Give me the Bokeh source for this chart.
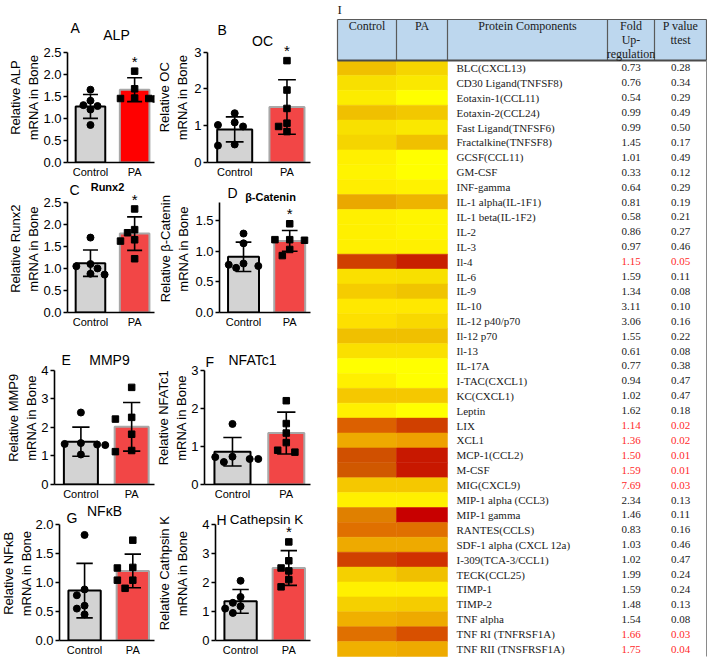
import numpy as np
from bokeh.plotting import figure
from bokeh.models import Range1d, FixedTicker, NumeralTickFormatter, ColumnDataSource
from bokeh.layouts import row, column
from bokeh.core.properties import value
from bokeh.embed import file_html
from bokeh.resources import INLINE

# ---------------- data: bar panels ----------------
groups = ["Control", "PA"]

alp_mean = [1.27, 1.65]
alp_sd = [0.27, 0.27]
alp_ctrl = [1.65, 1.40, 1.30, 1.28, 1.20, 0.85]
alp_pa = [2.07, 1.67, 1.46, 1.45, 1.45, 1.44]

oc_mean = [0.90, 1.51]
oc_sd = [0.34, 0.74]
oc_ctrl = [1.34, 1.09, 1.02, 0.98, 0.49, 0.46]
oc_pa = [2.77, 1.97, 1.47, 1.07, 0.98, 0.84]

runx2_mean = [1.12, 1.79]
runx2_sd = [0.30, 0.38]
runx2_ctrl = [1.70, 1.10, 1.05, 1.00, 0.88, 0.86]
runx2_pa = [2.35, 1.88, 1.81, 1.65, 1.62, 1.22]

bcat_mean = [0.91, 1.17]
bcat_sd = [0.24, 0.17]
bcat_ctrl = [1.29, 1.13, 0.80, 0.78, 0.76, 0.73]
bcat_pa = [1.45, 1.19, 1.19, 1.18, 1.03, 0.93]

mmp9_mean = [1.50, 2.02]
mmp9_sd = [0.51, 0.85]
mmp9_ctrl = [2.52, 1.45, 1.42, 1.40, 1.38, 1.05]
mmp9_pa = [3.40, 2.35, 2.29, 1.76, 1.19, 1.15]

nfatc1_mean = [0.86, 1.35]
nfatc1_sd = [0.375, 0.55]
nfatc1_ctrl = [1.59, 0.73, 0.72, 0.67, 0.67, 0.59]
nfatc1_pa = [2.20, 1.60, 1.35, 1.10, 0.90, 0.85]

nfkb_mean = [0.86, 1.20]
nfkb_sd = [0.47, 0.29]
nfkb_ctrl = [1.82, 0.88, 0.78, 0.60, 0.55, 0.45]
nfkb_pa = [1.73, 1.26, 1.25, 1.04, 1.04, 0.90]

ctsk_mean = [1.35, 2.50]
ctsk_sd = [0.41, 0.60]
ctsk_ctrl = [2.06, 1.50, 1.30, 1.18, 1.10, 0.95]
ctsk_pa = [3.40, 2.75, 2.50, 2.40, 2.10, 1.85]

panel_names = ["ALP", "OC", "Runx2", "β-Catenin", "MMP9", "NFATc1", "NFκB", "Cathepsin K"]
panel_letters = ["A", "B", "C", "D", "E", "F", "G", "H"]
panel_ylabels = ["Relative ALP\nmRNA in Bone", "Relative OC\nmRNA in Bone",
                 "Relative Runx2\nmRNA in Bone", "Relative β-Catenin\nmRNA in Bone",
                 "Relative MMP9\nmRNA in Bone", "Relative NFATc1\nmRNA in Bone",
                 "Relative NFκB\nmRNA in Bone", "Relative Cathpsin K\nmRNA in Bone"]
panel_significant = [True, True, True, True, False, False, False, True]
panel_ymax = [2.5, 3, 2.5, 1.8, 4, 3, 2.0, 4]
panel_ticks = [[0, 0.5, 1.0, 1.5, 2.0, 2.5], [0, 1, 2, 3], [0, 0.5, 1.0, 1.5, 2.0, 2.5],
               [0, 0.5, 1.0, 1.5], [0, 1, 2, 3, 4], [0, 1, 2, 3], [0, 0.5, 1.0, 1.5, 2.0],
               [0, 1, 2, 3, 4]]

# ---------------- data: protein array table ----------------
proteins = ["BLC(CXCL13)", "CD30 Ligand(TNFSF8)", "Eotaxin-1(CCL11)", "Eotaxin-2(CCL24)",
            "Fast Ligand(TNFSF6)", "Fractalkine(TNFSF8)", "GCSF(CCL11)", "GM-CSF", "INF-gamma",
            "IL-1 alpha(IL-1F1)", "IL-1 beta(IL-1F2)", "IL-2", "IL-3", "Il-4", "IL-6", "IL-9",
            "IL-10", "IL-12  p40/p70", "Il-12  p70", "Il-13", "IL-17A", "I-TAC(CXCL1)",
            "KC(CXCL1)", "Leptin", "LIX", "XCL1", "MCP-1(CCL2)", "M-CSF", "MIG(CXCL9)",
            "MIP-1 alpha (CCL3)", "MIP-1 gamma", "RANTES(CCLS)", "SDF-1 alpha (CXCL 12a)",
            "I-309(TCA-3/CCL1)", "TECK(CCL25)", "TIMP-1", "TIMP-2", "TNF alpha",
            "TNF RI (TNFRSF1A)", "TNF RII (TNSFRSF1A)"]
fold_up = [0.73, 0.76, 0.54, 0.99, 0.99, 1.45, 1.01, 0.33, 0.64, 0.81, 0.58, 0.86, 0.97,
           1.15, 1.59, 1.34, 3.11, 3.06, 1.55, 0.61, 0.77, 0.94, 1.02, 1.62, 1.14, 1.36,
           1.50, 1.59, 7.69, 2.34, 1.46, 0.83, 1.03, 1.02, 1.99, 1.59, 1.48, 1.54, 1.66, 1.75]
p_values = [0.28, 0.34, 0.29, 0.49, 0.50, 0.17, 0.49, 0.12, 0.29, 0.19, 0.21, 0.27, 0.46,
            0.05, 0.11, 0.08, 0.10, 0.16, 0.22, 0.08, 0.38, 0.47, 0.47, 0.18, 0.02, 0.02,
            0.01, 0.01, 0.03, 0.13, 0.11, 0.16, 0.46, 0.47, 0.24, 0.24, 0.13, 0.08, 0.03, 0.04]
control_colors = ["#f0c000", "#f8e000", "#fcec00", "#f0c000", "#f8e000", "#f5d500", "#fff000",
                  "#fff400", "#ffee00", "#eaa800", "#fff000", "#fff000", "#fff000", "#d04000",
                  "#fae000", "#f5cc00", "#ffe800", "#fde000", "#f0c000", "#fae000", "#ffff00",
                  "#fff000", "#f5c800", "#fff000", "#dc6000", "#eeaa00", "#d05000", "#d05800",
                  "#f5c800", "#fff000", "#e08000", "#e07000", "#eeaa00", "#d04000", "#f5d000",
                  "#fff000", "#f5d000", "#f0b000", "#e07000", "#f0b000"]
pa_colors = ["#f5d500", "#fae800", "#ffff00", "#f2c800", "#fae800", "#f0c000", "#ffff00",
             "#ffff00", "#fff200", "#eeb400", "#fff500", "#fff500", "#fff000", "#c82000",
             "#f8e000", "#f0c400", "#ffe800", "#f8d800", "#f0c000", "#fae000", "#ffff00",
             "#ffff00", "#f5c800", "#ffff00", "#d04000", "#eea000", "#c81800", "#c81800",
             "#f5c800", "#fff000", "#c80000", "#e07000", "#eeaa00", "#d03000", "#f0c000",
             "#fff000", "#f5cc00", "#eeaa00", "#d85000", "#eeaa00"]

# ---------------- styles / layout ----------------
SANS = "Liberation Sans"
SERIF = "Liberation Serif"
COL_LEFT = [0, 156]
COL_W = [156, 179]
COL_RIGHT_BORDER = [2, 25]
TABLE_W = 372
ROW_TOP = [0, 180, 330, 502]
ROW_H = [180, 150, 172, 156]
ROW_GAP = [52, 22, 40, 22]        # px between figure top and axis top
ROW_AXIS = [111, 111, 115, 116]   # px height of the value axis
axis_x = [63, 207, 63, 208, 52, 198, 55, 215]     # absolute x of each y axis
label_w = [40, 33, 40, 36, 38, 32, 32, 41]        # width of the y-label strip
label_c = [24, 17, 24, 18, 22, 16, 16.5, 17]      # centre of the y-label block in the strip
letter_pos = [(66, 28), (217, 30), (65, 190), (216, 193), (59, 360), (193, 362), (62, 517), (212, 519)]
title_pos = [(112, 35), (262, 41), (103, 187), (259, 197), (107, 360), (246, 360), (100, 510), (266, 519)]
title_size = ["14px", "14px", "11px", "11px", "14px", "14px", "14px", "13.5px"]
title_bold = [False, False, True, True, False, False, False, False]
pa_fill = ["#ff0000"] + ["#f24646"] * 7

panel_data = [(alp_mean, alp_sd, alp_ctrl, alp_pa), (oc_mean, oc_sd, oc_ctrl, oc_pa),
              (runx2_mean, runx2_sd, runx2_ctrl, runx2_pa), (bcat_mean, bcat_sd, bcat_ctrl, bcat_pa),
              (mmp9_mean, mmp9_sd, mmp9_ctrl, mmp9_pa), (nfatc1_mean, nfatc1_sd, nfatc1_ctrl, nfatc1_pa),
              (nfkb_mean, nfkb_sd, nfkb_ctrl, nfkb_pa), (ctsk_mean, ctsk_sd, ctsk_ctrl, ctsk_pa)]


def swarm(vals, ymax, axis_h, unit_px, center):
    order = np.argsort(vals)[::-1]
    placed = []
    xs = [0.0] * len(vals)
    cands = [0, -1, 1, -2, 2, -3, 3]
    step = 8.0
    for i in order:
        py = vals[i] / ymax * axis_h
        dx = 0
        for c in cands:
            dx = c * step
            if all(((dx - qx) ** 2 + (py - qy) ** 2) ** 0.5 >= 8.5 for qx, qy in placed):
                break
        placed.append((dx, py))
        xs[i] = center + dx / unit_px
    return xs


def bare(fig):
    fig.title.visible = False
    fig.outline_line_color = None
    fig.grid.visible = False
    fig.background_fill_color = None
    fig.border_fill_color = None


def bar_panel(k):
    means, sds, ctrl, pa = panel_data[k]
    r, c = k // 2, k % 2
    fig_left = COL_LEFT[c]
    h = ROW_H[r]
    gap, axis_h = ROW_GAP[r], ROW_AXIS[r]
    axis_top = ROW_TOP[r] + gap
    bottom_border = h - gap - axis_h
    ymax = panel_ymax[k]
    px_to_y = ymax / axis_h
    x0, x1 = -0.52, 1.45
    lw = label_w[k]
    bw = COL_W[c] - lw
    p = figure(width=bw, height=h, x_range=Range1d(x0, x1),
               y_range=Range1d(0, ymax + gap * px_to_y),
               output_backend="svg", toolbar_location=None,
               min_border_left=max(axis_x[k] - fig_left - lw, 0),
               min_border_right=COL_RIGHT_BORDER[c],
               min_border_top=0, min_border_bottom=bottom_border)
    bare(p)

    # strip holding the y-axis label, on the same vertical scale as the panel
    s = figure(width=lw, height=h, x_range=Range1d(0, lw),
               y_range=Range1d(-bottom_border * px_to_y, ymax + gap * px_to_y),
               output_backend="svg", toolbar_location=None, x_axis_type=None, y_axis_type=None,
               min_border=0)
    bare(s)
    s.text(x=[label_c[k]], y=[ymax / 2], text=[panel_ylabels[k]], angle=np.pi / 2,
           text_font=value(SANS), text_font_size=value("13px"), text_align="center",
           text_baseline="middle", text_color="black", text_line_height=1.2)

    unit_px = 50.0
    upper = [m + sd for m, sd in zip(means, sds)]
    lower = [m - sd for m, sd in zip(means, sds)]
    xs = [0, 1]
    p.vbar(x=xs, top=means, width=0.67, bottom=0,
           fill_color=["#d3d3d3", pa_fill[k]], line_color=["#000000", "#a8a8a8"], line_width=2)
    cap = 0.17
    p.segment(x0=xs, y0=lower, x1=xs, y1=upper, line_color="black", line_width=1.6)
    p.segment(x0=[x - cap for x in xs], y0=upper, x1=[x + cap for x in xs], y1=upper,
              line_color="black", line_width=1.6)
    p.segment(x0=[x - cap for x in xs], y0=lower, x1=[x + cap for x in xs], y1=lower,
              line_color="black", line_width=1.6)
    cx = swarm(ctrl, ymax, axis_h, unit_px, 0)
    px = swarm(pa, ymax, axis_h, unit_px, 1)
    p.scatter(x=cx, y=ctrl, marker="circle", size=7, fill_color="black", line_color="black")
    p.scatter(x=px, y=pa, marker="square", size=6.5, fill_color="black", line_color="black")

    for ax in (p.xaxis[0], p.yaxis[0]):
        ax.axis_line_width = 1.6
        ax.axis_line_color = "black"
        ax.minor_tick_line_color = None
        ax.major_label_text_font = SANS
        ax.major_label_text_color = "black"
    p.yaxis.bounds = (0, ymax)
    p.yaxis.ticker = FixedTicker(ticks=panel_ticks[k])
    p.yaxis.formatter = NumeralTickFormatter(format="0" if ymax in (3, 4) else "0.0")
    p.yaxis.major_tick_out = 4
    p.yaxis.major_tick_in = 0
    p.yaxis.major_tick_line_width = 1.6
    p.yaxis.major_label_text_font_size = "13px"
    p.yaxis.major_label_standoff = 2
    p.xaxis.ticker = FixedTicker(ticks=xs)
    p.xaxis.major_label_overrides = {0: groups[0], 1: groups[1]}
    p.xaxis.major_tick_out = 0
    p.xaxis.major_tick_in = 0
    p.xaxis.major_label_text_font_size = "11px"
    p.xaxis.major_label_standoff = 3

    # panel letter
    lx, ly = letter_pos[k]
    p.text(x=[x0], y=[ymax + (axis_top - ly) * px_to_y], x_offset=max(lx - axis_x[k], 1),
           text=[panel_letters[k]], text_font=value(SANS), text_font_size=value("14px"),
           text_align="left", text_baseline="middle", text_color="black")
    # gene name
    tx, ty = title_pos[k]
    p.text(x=[x0], y=[ymax + (axis_top - ty) * px_to_y], x_offset=tx - axis_x[k],
           text=[panel_names[k]], text_font=value(SANS),
           text_font_size=value(title_size[k]),
           text_font_style="bold" if title_bold[k] else "normal",
           text_align="center", text_baseline="middle", text_color="black")
    if panel_significant[k]:
        sy = max(upper[1], max(pa)) + 0.09 * ymax
        p.text(x=[1], y=[sy], text=["*"], text_font=value(SANS), text_font_size=value("15px"),
               text_align="center", text_baseline="middle", text_color="black")
    return row(s, p)


panels = [bar_panel(k) for k in range(8)]
left = column(row(panels[0], panels[1]), row(panels[2], panels[3]),
              row(panels[4], panels[5]), row(panels[6], panels[7]))

# ---------------- table figure ----------------
TABLE_H = sum(ROW_H)
EDGES = [2, 61, 112, 272, 319, 371]
ROW_PX = 14.9
HDR = 41 / ROW_PX
TOPM = 19 / ROW_PX
n = len(proteins)
y_top = -0.5 - HDR - TOPM
y_bot = y_top + TABLE_H / ROW_PX
t = figure(width=TABLE_W, height=TABLE_H, x_range=Range1d(0, TABLE_W), y_range=Range1d(y_bot, y_top),
           output_backend="svg", toolbar_location=None, x_axis_type=None, y_axis_type=None,
           min_border=0)
bare(t)

ys = np.arange(n)
src = ColumnDataSource(dict(
    y=ys, top=ys - 0.5, bottom=ys + 0.5, cc=control_colors, pc=pa_colors,
    name=proteins, fold=[f"{v:.2f}" for v in fold_up], pv=[f"{v:.2f}" for v in p_values],
    col=["#ff2a2a" if v <= 0.05 else "#1a1a1a" for v in p_values]))
t.quad(left=EDGES[0], right=EDGES[1], top="top", bottom="bottom", fill_color="cc",
       line_color="cc", line_width=0.5, source=src)
t.quad(left=EDGES[1], right=EDGES[2], top="top", bottom="bottom", fill_color="pc",
       line_color="pc", line_width=0.5, source=src)

hdr_top = -0.5 - HDR
hdr_bot = -0.5
last = n - 0.5
t.quad(left=EDGES[0], right=EDGES[-1], top=hdr_top, bottom=hdr_bot, fill_color="#bdd7ee",
       line_color=None)
t.segment(x0=EDGES, y0=[hdr_top] * len(EDGES), x1=EDGES, y1=[hdr_bot] * len(EDGES),
          line_color="#5a5a5a", line_width=1.2)
t.segment(x0=[EDGES[0]], y0=[hdr_top], x1=[EDGES[-1]], y1=[hdr_top], line_color="#5a5a5a",
          line_width=1.2)
t.segment(x0=[EDGES[0]], y0=[hdr_bot], x1=[EDGES[-1]], y1=[hdr_bot], line_color="#4a4a4a",
          line_width=2)
t.segment(x0=[EDGES[-1]], y0=[hdr_bot], x1=[EDGES[-1]], y1=[last], line_color="#8a8a8a",
          line_width=1)

hdr_texts = ["Control", "PA", "Protein Components", "Fold\nUp-\nregulation", "P value\nttest"]
hdr_x = [(EDGES[i] + EDGES[i + 1]) / 2 for i in range(5)]
t.text(x=hdr_x, y=[hdr_top] * 5, text=hdr_texts, y_offset=-1, text_align="center",
       text_baseline="top", text_font=value(SERIF), text_font_size=value("12px"),
       text_color="#1a1a1a", text_line_height=1.0)

t.text(x=EDGES[2] + 9, y="y", text="name", source=src, text_align="left", text_baseline="middle",
       text_font=value(SERIF), text_font_size=value("11px"), text_color="#1a1a1a")
t.text(x=(EDGES[3] + EDGES[4]) / 2, y="y", text="fold", source=src, text_align="center",
       text_baseline="middle", text_font=value(SERIF), text_font_size=value("11px"),
       text_color="col")
t.text(x=(EDGES[4] + EDGES[5]) / 2, y="y", text="pv", source=src, text_align="center",
       text_baseline="middle", text_font=value(SERIF), text_font_size=value("11px"),
       text_color="col")
t.text(x=[EDGES[0]], y=[y_top], text=["I"], y_offset=1, text_align="left", text_baseline="top",
       text_font=value(SERIF), text_font_size=value("13px"), text_color="#1a1a1a")

layout = row(left, t)
open("out.html", "w").write(file_html(layout, INLINE))
